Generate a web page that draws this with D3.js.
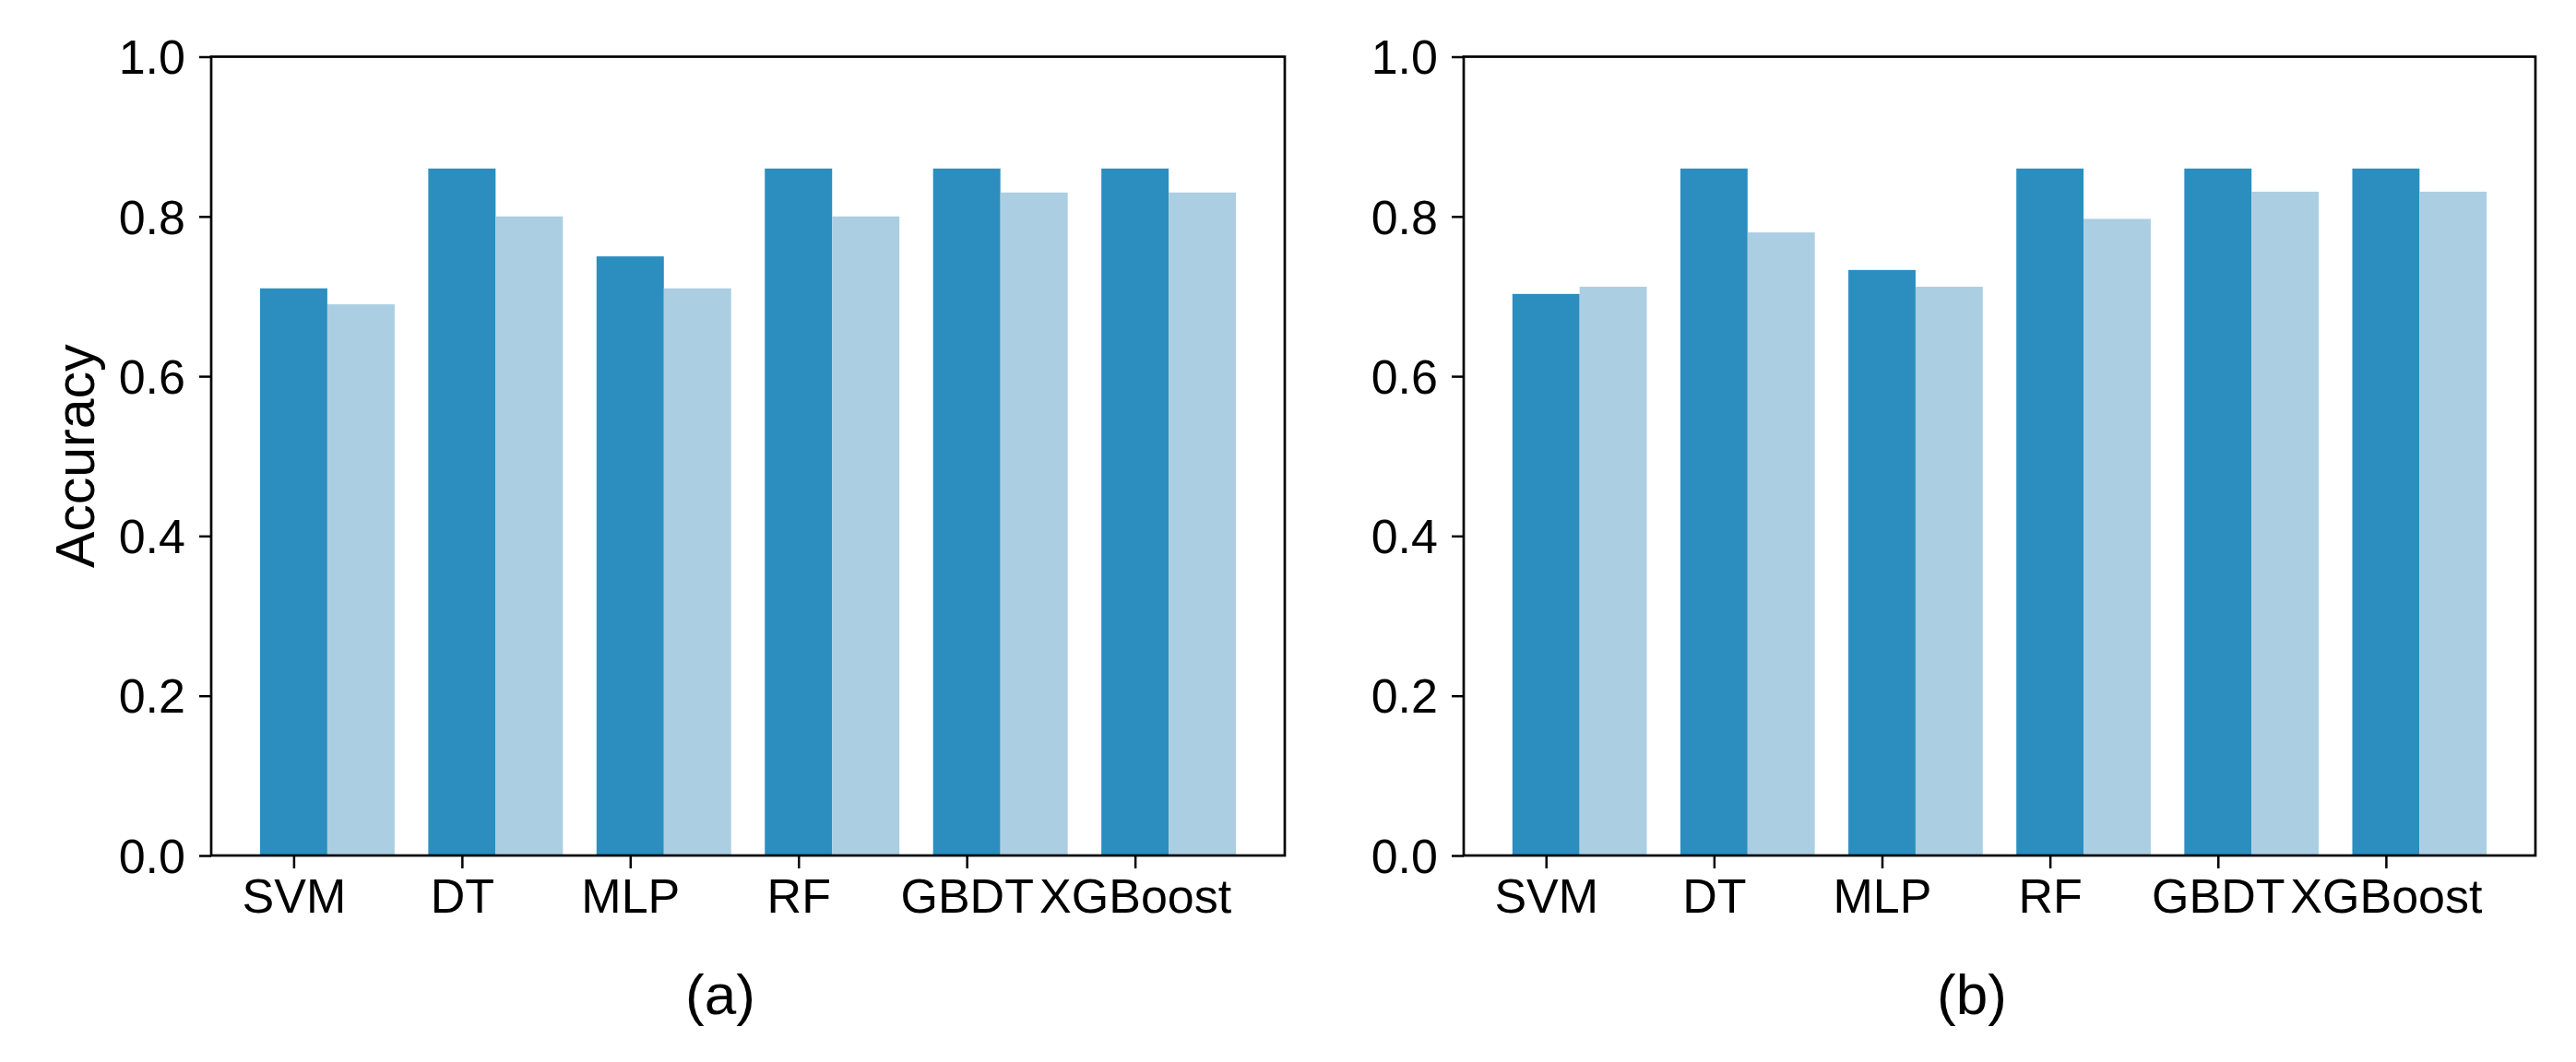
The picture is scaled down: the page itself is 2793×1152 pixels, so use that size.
<!DOCTYPE html>
<html>
<head>
<meta charset="utf-8">
<script src="https://cdn.jsdelivr.net/npm/d3@7"></script>
<style>
  html, body { margin: 0; padding: 0; background: #fff; }
  svg text { font-family: "Liberation Sans", Arial, sans-serif; fill: #000; }
</style>
</head>
<body>
<svg id="chart" width="2793" height="1152"></svg>
<script>
// Data
const models = ['SVM', 'DT', 'MLP', 'RF', 'GBDT', 'XGBoost'];
const yTicks = [0.0, 0.2, 0.4, 0.6, 0.8, 1.0];

const accA1 = [0.71, 0.86, 0.75, 0.86, 0.86, 0.86];
const accA2 = [0.69, 0.80, 0.71, 0.80, 0.83, 0.83];
const accB1 = [0.703, 0.86, 0.733, 0.86, 0.86, 0.86];
const accB2 = [0.712, 0.78, 0.712, 0.797, 0.831, 0.831];

const panels = [
  { left: 229, right: 1393, caption: '(a)', s1: accA1, s2: accA2, ylabel: 'Accuracy' },
  { left: 1587, right: 2749, caption: '(b)', s1: accB1, s2: accB2, ylabel: null }
];

const colors = ['#2b8ebf', '#abcee3'];
const plotTop = 61.5, plotBottom = 928;
const barW = 0.4;

const svg = d3.select('#chart');

panels.forEach(p => {
  const g = svg.append('g');

  // matplotlib style x range: bars span -0.2..5.6, 5% margins
  const x = d3.scaleLinear().domain([-0.49, 5.89]).range([p.left, p.right]);
  const y = d3.scaleLinear().domain([0, 1]).range([plotBottom, plotTop]);

  // bars
  [p.s1, p.s2].forEach((vals, si) => {
    g.append('g').selectAll('rect')
      .data(vals)
      .join('rect')
        .attr('x', (d, i) => x(i - barW / 2 + si * barW))
        .attr('width', x(barW) - x(0))
        .attr('y', d => y(d))
        .attr('height', d => y(0) - y(d))
        .attr('fill', colors[si]);
  });

  // y axis
  const yAxis = d3.axisLeft(y)
    .tickValues(yTicks)
    .tickFormat(d3.format('.1f'))
    .tickSize(13)
    .tickPadding(15);
  const ya = g.append('g')
    .attr('transform', `translate(${p.left},0)`)
    .call(yAxis);
  ya.select('.domain').remove();
  ya.selectAll('line').attr('stroke', '#000').attr('stroke-width', 2.5);
  ya.selectAll('text')
    .attr('font-size', 52)
    .attr('dy', '0.35em');

  // x axis
  const xAxis = d3.axisBottom(x)
    .tickValues(d3.range(models.length))
    .tickFormat(i => models[i])
    .tickSize(14)
    .tickPadding(10);
  const xa = g.append('g')
    .attr('transform', `translate(0,${plotBottom})`)
    .call(xAxis);
  xa.select('.domain').remove();
  xa.selectAll('line').attr('stroke', '#000').attr('stroke-width', 2.5);
  xa.selectAll('text')
    .attr('font-size', 52)
    .attr('dy', null)
    .attr('y', 62);

  // frame
  g.append('rect')
    .attr('x', p.left)
    .attr('y', plotTop)
    .attr('width', p.right - p.left)
    .attr('height', plotBottom - plotTop)
    .attr('fill', 'none')
    .attr('stroke', '#000')
    .attr('stroke-width', 2.7);

  if (p.ylabel) {
    g.append('text')
      .attr('transform', `translate(102,${(plotTop + plotBottom) / 2}) rotate(-90)`)
      .attr('text-anchor', 'middle')
      .attr('font-size', 59)
      .text(p.ylabel);
  }

  g.append('text')
    .attr('x', (p.left + p.right) / 2 - 30)
    .attr('y', 1100)
    .attr('text-anchor', 'middle')
    .attr('font-size', 62)
    .text(p.caption);
});
</script>
</body>
</html>
